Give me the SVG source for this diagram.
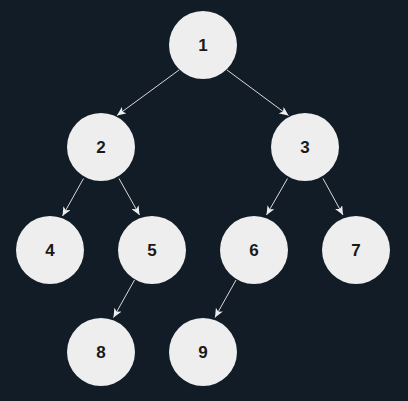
<svg xmlns="http://www.w3.org/2000/svg" width="408" height="401" viewBox="0 0 408 401">
<style>
.n{fill:#eeeeee;}
.t{font-family:"Liberation Sans",Arial,sans-serif;font-weight:bold;font-size:17px;fill:#1a1a1a;text-anchor:middle;dominant-baseline:central;}
.e{stroke:#d9d9d9;stroke-width:1;fill:none;marker-end:url(#a);}
</style>
<defs>
<marker id="a" markerUnits="userSpaceOnUse" markerWidth="10" markerHeight="8" refX="9" refY="4" orient="auto">
<path d="M0,0 L9,4 L0,8 L2.3,4 Z" fill="#eeeeee"/>
</marker>
</defs>
<rect width="408" height="401" fill="#111c26"/>
<g id="edges">
<line class="e" x1="179" y1="70" x2="117" y2="115.5"/>
<line class="e" x1="227" y1="70" x2="288.5" y2="115.5"/>
<line class="e" x1="83.5" y1="178.5" x2="62.5" y2="216"/>
<line class="e" x1="119" y1="178.5" x2="139.5" y2="215"/>
<line class="e" x1="287.5" y1="178.5" x2="266.5" y2="215"/>
<line class="e" x1="323" y1="178.5" x2="343" y2="215"/>
<line class="e" x1="134.5" y1="280" x2="113.5" y2="317.5"/>
<line class="e" x1="236" y1="280" x2="215" y2="317.5"/>
</g>
<g id="n1"><circle class="n" cx="203" cy="45" r="34"/><text class="t" x="203" y="45">1</text></g>
<g id="n2"><circle class="n" cx="101" cy="147" r="34"/><text class="t" x="101" y="147">2</text></g>
<g id="n3"><circle class="n" cx="305" cy="147" r="34"/><text class="t" x="305" y="147">3</text></g>
<g id="n4"><circle class="n" cx="50" cy="250" r="34"/><text class="t" x="50" y="250">4</text></g>
<g id="n5"><circle class="n" cx="152" cy="250" r="34"/><text class="t" x="152" y="250">5</text></g>
<g id="n6"><circle class="n" cx="254" cy="250" r="34"/><text class="t" x="254" y="250">6</text></g>
<g id="n7"><circle class="n" cx="356" cy="250" r="34"/><text class="t" x="356" y="250">7</text></g>
<g id="n8"><circle class="n" cx="101" cy="352" r="34"/><text class="t" x="101" y="352">8</text></g>
<g id="n9"><circle class="n" cx="203" cy="352" r="34"/><text class="t" x="203" y="352">9</text></g>
</svg>
